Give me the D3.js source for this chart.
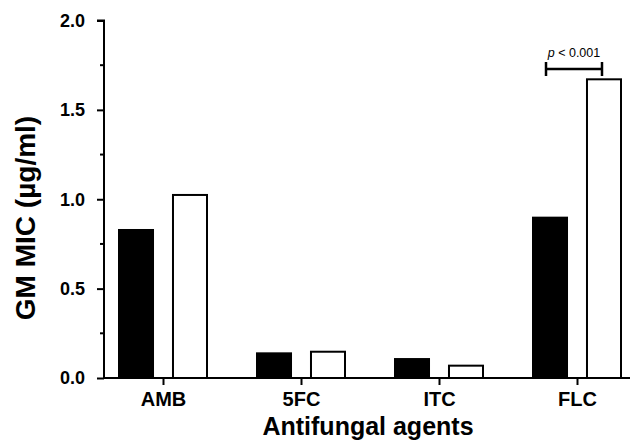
<!DOCTYPE html>
<html>
<head>
<meta charset="utf-8">
<script src="https://cdn.jsdelivr.net/npm/d3@7"></script>
<style>
  body { margin: 0; background: #fff; }
  svg { display: block; font-family: "Liberation Sans", Arial, sans-serif; }
</style>
</head>
<body>
<svg id="chart" width="630" height="441"></svg>
<script>
var categories = ["AMB", "5FC", "ITC", "FLC"];
var seriesNames = ["group1", "group2"];
var group1Values = [0.828, 0.138, 0.106, 0.897];
var group2Values = [1.024, 0.147, 0.069, 1.671];
var yTicks = [0, 0.5, 1.0, 1.5, 2.0];
var yMinorTicks = [0.25, 0.75, 1.25, 1.75];

var svg = d3.select("#chart");
var axisX0 = 104;
var baseY = 378;
var topY = 20.5;

var data = categories.map(function (c, i) {
  return { cat: c, values: [group1Values[i], group2Values[i]] };
});

var x0 = d3.scaleBand().domain(categories).range([94, 646]).padding(0);
var x1 = d3.scaleBand().domain(seriesNames).range([-44, 44]).paddingInner(0.37);
var y = d3.scaleLinear().domain([0, 2]).range([baseY, topY]);

// bars
var groups = svg
  .selectAll(".grp")
  .data(data)
  .enter()
  .append("g")
  .attr("transform", function (d) {
    return "translate(" + (x0(d.cat) + x0.bandwidth() / 2) + ",0)";
  });

groups
  .selectAll("rect")
  .data(function (d) {
    return d.values.map(function (v, j) {
      return { s: seriesNames[j], v: v };
    });
  })
  .enter()
  .append("rect")
  .attr("x", function (d) {
    return x1(d.s);
  })
  .attr("y", function (d) {
    return y(d.v);
  })
  .attr("width", x1.bandwidth())
  .attr("height", function (d) {
    return baseY - y(d.v);
  })
  .attr("fill", function (d) {
    return d.s == "group1" ? "#000" : "#fff";
  })
  .attr("stroke", "#000")
  .attr("stroke-width", 2);

// y axis
var yAxis = svg
  .append("g")
  .attr("transform", "translate(" + axisX0 + ",0)")
  .call(d3.axisLeft(y).tickValues(yTicks).tickFormat(d3.format(".1f")).tickSize(7).tickPadding(12));
yAxis.select(".domain").attr("stroke-width", 2).attr("d", "M0," + (baseY + 1) + "V" + topY + "H-7");
yAxis.selectAll(".tick line").attr("stroke-width", 2);
yAxis
  .selectAll(".tick text")
  .attr("font-size", "18px")
  .attr("font-weight", "bold")
  .attr("font-family", "Liberation Sans, Arial, sans-serif")
  .attr("fill", "#000");

svg
  .append("g")
  .selectAll("line")
  .data(yMinorTicks)
  .enter()
  .append("line")
  .attr("x1", axisX0 - 4)
  .attr("x2", axisX0)
  .attr("y1", function (d) {
    return y(d);
  })
  .attr("y2", function (d) {
    return y(d);
  })
  .attr("stroke", "#000")
  .attr("stroke-width", 2);

// x axis
var xPoint = d3
  .scalePoint()
  .domain(categories)
  .range([x0("AMB") + x0.bandwidth() / 2, x0("FLC") + x0.bandwidth() / 2]);
var xAxis = svg
  .append("g")
  .attr("transform", "translate(0," + baseY + ")")
  .call(d3.axisBottom(xPoint).tickSize(7).tickPadding(7));
xAxis.select(".domain").remove();
xAxis.selectAll(".tick line").attr("stroke-width", 2);
xAxis
  .selectAll(".tick text")
  .attr("font-size", "20px")
  .attr("font-weight", "bold")
  .attr("font-family", "Liberation Sans, Arial, sans-serif")
  .attr("fill", "#000");
svg
  .append("line")
  .attr("x1", axisX0 - 1)
  .attr("x2", 630)
  .attr("y1", baseY)
  .attr("y2", baseY)
  .attr("stroke", "#000")
  .attr("stroke-width", 2);

// axis titles
svg
  .append("text")
  .attr("text-anchor", "middle")
  .attr("x", 368)
  .attr("y", 435)
  .attr("font-size", "25px")
  .attr("font-weight", "bold")
  .text("Antifungal agents");
svg
  .append("text")
  .attr("text-anchor", "middle")
  .attr("transform", "translate(35,218) rotate(-90)")
  .attr("font-size", "28px")
  .attr("font-weight", "bold")
  .text("GM MIC (µg/ml)");

// significance bracket
var flcX = x0("FLC") + x0.bandwidth() / 2;
var bx1 = flcX + x1("group1") + x1.bandwidth() / 2 - 4;
var bx2 = flcX + x1("group2") + x1.bandwidth() / 2 - 2;
var by = 69;
var bracket = svg.append("g").attr("stroke", "#000").attr("stroke-width", 2.5);
bracket.append("line").attr("x1", bx1).attr("x2", bx2).attr("y1", by).attr("y2", by);
bracket.append("line").attr("x1", bx1).attr("x2", bx1).attr("y1", by - 7).attr("y2", by + 7);
bracket.append("line").attr("x1", bx2).attr("x2", bx2).attr("y1", by - 7).attr("y2", by + 7);

var pText = svg
  .append("text")
  .attr("text-anchor", "middle")
  .attr("x", (bx1 + bx2) / 2)
  .attr("y", 57)
  .attr("font-size", "12.5px");
pText.append("tspan").attr("font-style", "italic").text("p");
pText.append("tspan").text(" < 0.001");
</script>
</body>
</html>
